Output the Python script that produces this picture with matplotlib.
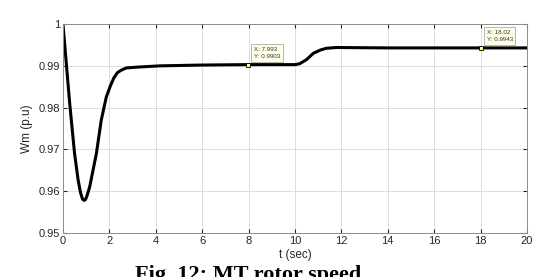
import numpy as np
import matplotlib
import matplotlib.pyplot as plt

matplotlib.use("Agg")

plt.rcParams["font.family"] = ["Liberation Sans", "DejaVu Sans"]

# Rotor speed response
t = [0, 0.29, 0.5, 0.65, 0.75, 0.83, 0.88, 0.92, 0.97, 1.03, 1.15, 1.44,
     1.65, 1.87, 2.05, 2.2, 2.35, 2.52, 2.73, 3.2, 4.17, 6.0, 7.993, 10.0,
     10.2, 10.5, 10.79, 11.1, 11.35, 11.78, 14.0, 18.02, 20.0]
wm = [1.0, 0.981, 0.969, 0.9628, 0.9598, 0.9583, 0.9579, 0.9578, 0.958,
      0.9588, 0.961, 0.969, 0.977, 0.9826, 0.9853, 0.9872, 0.9884, 0.989,
      0.9895, 0.9897, 0.9900, 0.9902, 0.9903, 0.9903, 0.9905, 0.9915, 0.993,
      0.9938, 0.9942, 0.9944, 0.9943, 0.9943, 0.9943]

# data tips
tip_x = [7.993, 18.02]
tip_y = [0.9903, 0.9943]
tip_text = ["X: 7.993\nY: 0.9903", "X: 18.02\nY: 0.9943"]

fig = plt.figure(figsize=(5.5, 2.77), dpi=100)
ax = fig.add_axes([0.1145, 0.159, 0.8435, 0.754])

ax.plot(t, wm, color="black", linewidth=2.2)

for x, y, s in zip(tip_x, tip_y, tip_text):
    ax.plot(x, y, marker="s", markersize=3, markerfacecolor="#ffff66",
            markeredgecolor="black", markeredgewidth=0.6, zorder=5)
    ax.annotate(s, (x, y), xytext=(4, 4), textcoords="offset points",
                fontsize=4.5, color="#333333", va="bottom", ha="left",
                linespacing=1.6,
                bbox=dict(boxstyle="square,pad=0.4", facecolor="#ffffe8",
                          edgecolor="#aaaaaa", linewidth=0.6))

ax.set_xlim(0, 20)
ax.set_ylim(0.95, 1.0)
ax.set_xticks(np.arange(0, 21, 2))
ax.set_yticks([0.95, 0.96, 0.97, 0.98, 0.99, 1.0])
ax.set_yticklabels(["0.95", "0.96", "0.97", "0.98", "0.99", "1"])
ax.grid(True, color="#dcdcdc", linewidth=0.7)
ax.set_axisbelow(True)
ax.tick_params(direction="in", length=3, labelsize=8, colors="#262626",
               pad=2, top=True, right=True, labeltop=False, labelright=False)
for sp in ax.spines.values():
    sp.set_color("#8c8c8c")
    sp.set_linewidth(0.7)

ax.set_xlabel("t (sec)", fontsize=8.5, color="#262626", labelpad=2)
ax.set_ylabel("Wm (p.u)", fontsize=8.5, color="#262626", labelpad=4)

# caption is cut by the bottom edge, as in the source image
fig.text(0.245, 0.045, "Fig. 12: MT rotor speed", family="Liberation Serif",
         fontweight="bold", fontsize=16, ha="left", va="top")

fig.savefig("out.png", dpi=100)
